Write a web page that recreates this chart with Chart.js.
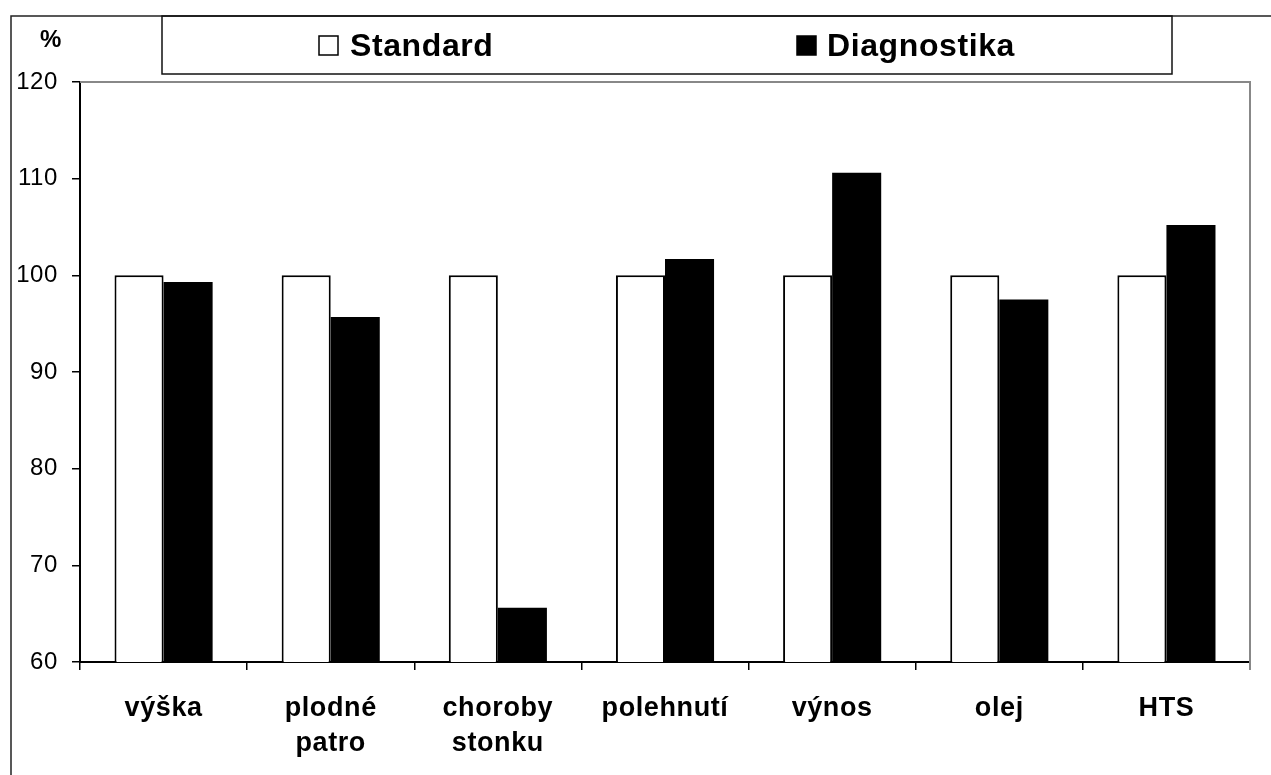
<!DOCTYPE html>
<html>
<head>
<meta charset="utf-8">
<script src="https://cdn.jsdelivr.net/npm/chart.js@4.4.1/dist/chart.umd.min.js"></script>
<style>
  html, body { margin: 0; padding: 0; background: #fff; }
  #wrap { width: 1271px; height: 775px; position: relative; }
</style>
</head>
<body>
<div id="wrap"><canvas id="chart"></canvas></div>
<script>
// data
const categories = ['výška', ['plodné', 'patro'], ['choroby', 'stonku'], 'polehnutí', 'výnos', 'olej', 'HTS'];
const standardValues = [100, 100, 100, 100, 100, 100, 100];
const diagnostikaValues = [99.3, 95.7, 65.6, 101.7, 110.6, 97.5, 105.2];
const seriesNames = ['Standard', 'Diagnostika'];
const yTicks = [60, 70, 80, 90, 100, 110, 120];

const FONT = "Arial, 'Liberation Sans', sans-serif";

function spacing(ctx, px) {
    if ('letterSpacing' in ctx) ctx.letterSpacing = px;
}

// frame, legend box, % label and grey plot border
const framePlugin = {
    id: 'frame',
    beforeLayout(chart) { spacing(chart.ctx, '0.6px'); },
    beforeDraw(chart) { spacing(chart.ctx, '0.6px'); },
    afterDraw(chart) {
        const ctx = chart.ctx;
        const a = chart.chartArea;
        ctx.save();

        // outer frame (top + left)
        ctx.strokeStyle = '#222';
        ctx.lineWidth = 1.5;
        ctx.beginPath();
        ctx.moveTo(11, 775);
        ctx.lineTo(11, 16);
        ctx.lineTo(1271, 16);
        ctx.stroke();

        // legend box
        ctx.strokeStyle = '#111';
        ctx.strokeRect(162, 16, 1010, 58);

        // plot area top + right in grey
        ctx.strokeStyle = '#888';
        ctx.lineWidth = 2;
        ctx.beginPath();
        ctx.moveTo(a.left, a.top);
        ctx.lineTo(a.right, a.top);
        ctx.lineTo(a.right, a.bottom + 8);
        ctx.stroke();

        // legend entries
        const ds = chart.data.datasets;
        const entries = [{x: 319, tx: 350}, {x: 797, tx: 827}];
        ctx.font = 'bold 32px ' + FONT;
        ctx.textBaseline = 'alphabetic';
        ctx.textAlign = 'left';
        spacing(ctx, '0.6px');
        ds.forEach((d, i) => {
            const e = entries[i];
            ctx.lineWidth = 1.5;
            ctx.strokeStyle = '#000';
            ctx.fillStyle = d.backgroundColor;
            ctx.fillRect(e.x, 36, 19, 19);
            ctx.strokeRect(e.x, 36, 19, 19);
            ctx.fillStyle = '#000';
            ctx.fillText(d.label, e.tx, 56);
        });

        // % label
        ctx.font = 'bold 24px ' + FONT;
        spacing(ctx, '0px');
        ctx.fillText('%', 40, 47);
        ctx.restore();
    }
};

new Chart(document.getElementById('chart'), {
    type: 'bar',
    data: {
        labels: categories,
        datasets: [{
            label: seriesNames[0],
            data: standardValues,
            backgroundColor: '#ffffff',
            borderColor: '#000000',
            borderWidth: 2,
            borderSkipped: 'bottom'
        }, {
            label: seriesNames[1],
            data: diagnostikaValues,
            backgroundColor: '#000000',
            borderColor: '#000000',
            borderWidth: 0
        }]
    },
    options: {
        responsive: true,
        maintainAspectRatio: false,
        animation: false,
        categoryPercentage: 0.587,
        barPercentage: 1.0,
        layout: { padding: { top: 82, right: 21, left: 0, bottom: 0 } },
        plugins: {
            legend: { display: false },
            tooltip: { enabled: false }
        },
        scales: {
            x: {
                grid: { drawOnChartArea: false, drawTicks: true, tickLength: 8, color: '#000', offset: true, lineWidth: 1.5 },
                border: { display: true, color: '#000', width: 2 },
                ticks: {
                    color: '#000',
                    padding: 21,
                    maxRotation: 0,
                    autoSkip: false,
                    font: { family: FONT, size: 27, weight: 'bold', lineHeight: 1.3 }
                },
                afterFit(scale) { scale.height = 113; }
            },
            y: {
                min: 60,
                max: 120,
                afterBuildTicks(scale) { scale.ticks = yTicks.map(v => ({ value: v })); },
                grid: { drawOnChartArea: false, drawTicks: true, tickLength: 8, color: '#000', lineWidth: 1.5 },
                border: { display: true, color: '#000', width: 2 },
                ticks: {
                    color: '#000',
                    padding: 14,
                    font: { family: FONT, size: 24 }
                },
                afterFit(scale) { scale.width = 80; }
            }
        }
    },
    plugins: [framePlugin]
});
</script>
</body>
</html>
